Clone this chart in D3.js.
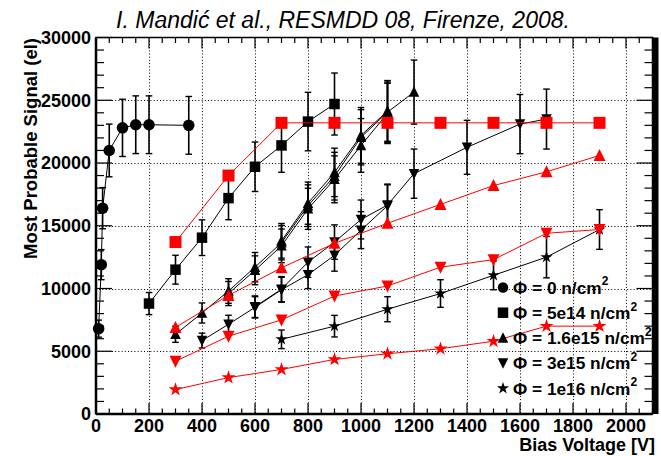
<!DOCTYPE html>
<html>
<head>
<meta charset="utf-8">
<script src="https://cdn.jsdelivr.net/npm/d3@7"></script>
<style>
  html, body { margin: 0; padding: 0; background: #fff; }
  svg { display: block; font-family: "Liberation Sans", Arial, Helvetica, sans-serif; }
</style>
</head>
<body>
<svg id="chart" width="661" height="456"></svg>
<script>
// ---- Data: bias voltage [V] vs most probable signal [electrons] ----
// Phi = 0 (black circles)
const voltPhi0 = [10, 20, 25, 50, 100, 150, 200, 350];
const sigPhi0  = [6800, 11900, 16400, 21000, 22800, 23050, 23050, 23000];
const errPhi0  = [680, 1200, 1640, 2100, 2280, 2300, 2300, 2300];

// Phi = 5e14 (black squares, red squares)
const voltPhi5e14A = [200, 300, 400, 500, 600, 700, 800, 900];
const sigPhi5e14A  = [8800, 11500, 14050, 17200, 19700, 21400, 23300, 24700];
const errPhi5e14A  = [880, 1150, 1420, 1720, 1970, 2140, 2330, 2470];
const voltPhi5e14B = [300, 500, 700, 900, 1100, 1300, 1500, 1700, 1900];
const sigPhi5e14B  = [13700, 19000, 23200, 23200, 23200, 23200, 23200, 23200, 23200];

// Phi = 1.6e15 (black triangles: three samples, red triangles)
const voltPhi16e15A = [300, 400, 500, 600, 700, 800, 900, 1000, 1100, 1200];
const sigPhi16e15A  = [6350, 8050, 9800, 11700, 13650, 16600, 18950, 22050, 24050, 25650];
const errPhi16e15A  = [640, 800, 980, 1170, 1370, 1660, 1900, 2200, 2400, 2550];
const voltPhi16e15B = [500, 600, 700, 800, 900, 1000, 1100];
const sigPhi16e15B  = [9600, 11450, 13400, 16350, 18700, 21400, 23950];
const errPhi16e15B  = [960, 1150, 1340, 1640, 1870, 2140, 2400];
const voltPhi16e15C = [700, 800, 900, 1000, 1100];
const sigPhi16e15C  = [13800, 16800, 19250, 22200, 24150];
const errPhi16e15C  = [1380, 1680, 1930, 2220, 2420];
const voltPhi16e15D = [300, 500, 700, 900, 1100, 1300, 1500, 1700, 1900];
const sigPhi16e15D  = [6900, 9450, 11650, 13600, 15200, 16700, 18200, 19300, 20600];

// Phi = 3e15 (black inverted triangles: two samples, red inverted triangles)
const voltPhi3e15A = [400, 500, 600, 700, 800, 900, 1000, 1100];
const sigPhi3e15A  = [5850, 7150, 8500, 9900, 11100, 12650, 14650, 16600];
const errPhi3e15A  = [590, 720, 850, 990, 1110, 1270, 1470, 1660];
const voltPhi3e15B = [600, 700, 800, 900, 1000, 1100, 1200, 1400, 1600, 1700];
const sigPhi3e15B  = [8550, 9950, 12100, 13700, 15500, 16650, 19150, 21250, 23100, 23500];
const errPhi3e15B  = [860, 1000, 1210, 1370, 1550, 1670, 1960, 2150, 2360, 2390];
const voltPhi3e15C = [300, 500, 700, 900, 1100, 1300, 1500, 1700, 1900];
const sigPhi3e15C  = [4200, 6200, 7500, 9400, 10200, 11700, 12300, 14400, 14700];

// Phi = 1e16 (black stars, red stars)
const voltPhi1e16A = [700, 900, 1100, 1300, 1500, 1700, 1900];
const sigPhi1e16A  = [5950, 7000, 8350, 9600, 11050, 12500, 14700];
const errPhi1e16A  = [740, 860, 1000, 1100, 1150, 1650, 1580];
const voltPhi1e16B = [300, 500, 700, 900, 1100, 1300, 1500, 1700, 1900];
const sigPhi1e16B  = [1950, 2900, 3550, 4350, 4800, 5200, 5800, 7000, 7000];

// Axis ticks and legend entries
const xTicks = [0, 200, 400, 600, 800, 1000, 1200, 1400, 1600, 1800, 2000];
const yTicks = [0, 5000, 10000, 15000, 20000, 25000, 30000];
const legendLabels = ["0", "5e14", "1.6e15", "3e15", "1e16"];
const legendMarkers = ["circle", "square", "triUp", "triDown", "star"];

// ---- Layout ----
const svg = d3.select("#chart");
const frame = { left: 96, right: 652.5, top: 37.5, bottom: 414 };
const x = d3.scaleLinear().domain([0, 2100]).range([frame.left, frame.right]);
const y = d3.scaleLinear().domain([0, 30000]).range([frame.bottom, frame.top]);

// Marker shapes
function markerPath(kind, s) {
  const h = s / 2;
  switch (kind) {
    case "circle": return d3.symbol(d3.symbolCircle, Math.PI * h * h)();
    case "square": return `M${-h},${-h}H${h}V${h}H${-h}Z`;
    case "triUp": return `M0,${-h - 0.5}L${h},${h - 0.5}L${-h},${h - 0.5}Z`;
    case "triDown": return `M0,${h + 0.5}L${h},${-h + 0.5}L${-h},${-h + 0.5}Z`;
    case "star": return d3.symbol(d3.symbolStar, s * s * 0.42)();
  }
}

// ---- Grid ----
const grid = svg.append("g").attr("stroke", "#000").attr("stroke-width", 1)
  .attr("stroke-dasharray", "1,2.2");
xTicks.filter(v => v > 0).forEach(v => {
  grid.append("line").attr("x1", Math.round(x(v)) + 0.5).attr("x2", Math.round(x(v)) + 0.5)
    .attr("y1", frame.top).attr("y2", frame.bottom);
});
yTicks.filter(v => v > 0 && v < 30000).forEach(v => {
  grid.append("line").attr("y1", Math.round(y(v)) + 0.5).attr("y2", Math.round(y(v)) + 0.5)
    .attr("x1", frame.left).attr("x2", frame.right);
});

// ---- Axes (ticks drawn inward on all four sides) ----
const axisG = svg.append("g");
const xMinor = d3.range(0, 2101, 50);
const yMinor = d3.range(0, 30001, 1000);
xMinor.forEach(v => {
  const major = v % 200 === 0;
  const len = major ? 11 : 5.5;
  const px = x(v);
  axisG.append("line").attr("x1", px).attr("x2", px).attr("y1", frame.bottom).attr("y2", frame.bottom - len)
    .attr("stroke", "#000").attr("stroke-width", 1.2);
  axisG.append("line").attr("x1", px).attr("x2", px).attr("y1", frame.top).attr("y2", frame.top + len)
    .attr("stroke", "#000").attr("stroke-width", 1.2);
});
yMinor.forEach(v => {
  const major = v % 5000 === 0;
  const len = major ? 16 : 8;
  const py = y(v);
  axisG.append("line").attr("x1", frame.left).attr("x2", frame.left + len).attr("y1", py).attr("y2", py)
    .attr("stroke", "#000").attr("stroke-width", 1.2);
  axisG.append("line").attr("x1", frame.right).attr("x2", frame.right - len).attr("y1", py).attr("y2", py)
    .attr("stroke", "#000").attr("stroke-width", 1.2);
});
axisG.append("rect").attr("x", frame.left).attr("y", frame.top)
  .attr("width", frame.right - frame.left).attr("height", frame.bottom - frame.top)
  .attr("fill", "none").attr("stroke", "#000").attr("stroke-width", 1.5);
axisG.append("line").attr("x1", frame.left).attr("x2", frame.left)
  .attr("y1", frame.top).attr("y2", frame.bottom).attr("stroke", "#000").attr("stroke-width", 2.5);
axisG.append("line").attr("x1", frame.left).attr("x2", frame.right)
  .attr("y1", frame.bottom).attr("y2", frame.bottom).attr("stroke", "#000").attr("stroke-width", 2.5);
// heavy right border of the frame
axisG.append("rect").attr("x", frame.right - 0.5).attr("y", frame.top)
  .attr("width", 6.5).attr("height", frame.bottom - frame.top).attr("fill", "#000");

// Tick labels
svg.append("g").selectAll("text").data(yTicks).join("text")
  .attr("x", 91).attr("y", d => y(d)).attr("dy", "0.36em")
  .attr("text-anchor", "end").attr("font-size", 18).attr("font-weight", "bold")
  .text(d => d);
svg.append("g").selectAll("text").data(xTicks).join("text")
  .attr("x", d => x(d)).attr("y", 432)
  .attr("text-anchor", "middle").attr("font-size", 18).attr("font-weight", "bold")
  .text(d => d);

// Axis titles
svg.append("text").attr("transform", "translate(37,38) rotate(-90)")
  .attr("text-anchor", "end").attr("font-size", 18.5).attr("font-weight", "bold")
  .text("Most Probable Signal (el)");
svg.append("text").attr("x", 655).attr("y", 451)
  .attr("text-anchor", "end").attr("font-size", 18).attr("font-weight", "bold")
  .text("Bias Voltage [V]");

// Title
svg.append("text").attr("x", 343).attr("y", 28)
  .attr("text-anchor", "middle").attr("font-size", 23).attr("font-style", "italic")
  .text("I. Mandić et al., RESMDD 08, Firenze, 2008.");

// ---- Data series ----
const BLACK = "#000", RED = "#ff0000";
const seriesList = [
  { v: voltPhi0, s: sigPhi0, e: errPhi0, color: BLACK, marker: "circle", size: 11.5 },
  { v: voltPhi5e14A, s: sigPhi5e14A, e: errPhi5e14A, color: BLACK, marker: "square", size: 10.5 },
  { v: voltPhi16e15A, s: sigPhi16e15A, e: errPhi16e15A, color: BLACK, marker: "triUp", size: 10.5 },
  { v: voltPhi16e15B, s: sigPhi16e15B, e: errPhi16e15B, color: BLACK, marker: "triUp", size: 10.5 },
  { v: voltPhi16e15C, s: sigPhi16e15C, e: errPhi16e15C, color: BLACK, marker: "triUp", size: 10.5 },
  { v: voltPhi3e15A, s: sigPhi3e15A, e: errPhi3e15A, color: BLACK, marker: "triDown", size: 10.5 },
  { v: voltPhi3e15B, s: sigPhi3e15B, e: errPhi3e15B, color: BLACK, marker: "triDown", size: 10.5 },
  { v: voltPhi1e16A, s: sigPhi1e16A, e: errPhi1e16A, color: BLACK, marker: "star", size: 10.5 },
  { v: voltPhi5e14B, s: sigPhi5e14B, e: null, color: RED, marker: "square", size: 12 },
  { v: voltPhi16e15D, s: sigPhi16e15D, e: null, color: RED, marker: "triUp", size: 12 },
  { v: voltPhi3e15C, s: sigPhi3e15C, e: null, color: RED, marker: "triDown", size: 12 },
  { v: voltPhi1e16B, s: sigPhi1e16B, e: null, color: RED, marker: "star", size: 12 }
];

const line = d3.line().x(d => x(d[0])).y(d => y(d[1]));
const plot = svg.append("g");
seriesList.forEach(ser => {
  const pts = ser.v.map((v, i) => [v, ser.s[i], ser.e ? ser.e[i] : 0]);
  const g = plot.append("g");
  g.append("path").datum(pts).attr("d", line)
    .attr("fill", "none").attr("stroke", ser.color).attr("stroke-width", 1);
  if (ser.e) {
    pts.forEach(p => {
      const px = x(p[0]), top = y(p[1] + p[2]), bot = y(p[1] - p[2]);
      g.append("line").attr("x1", px).attr("x2", px).attr("y1", top).attr("y2", bot)
        .attr("stroke", ser.color).attr("stroke-width", 1.6);
      [top, bot].forEach(cy => g.append("line").attr("x1", px - 3.3).attr("x2", px + 3.3)
        .attr("y1", cy).attr("y2", cy).attr("stroke", ser.color).attr("stroke-width", 1.4));
    });
  }
  g.selectAll("path.mk").data(pts).join("path").attr("class", "mk")
    .attr("transform", d => `translate(${x(d[0])},${y(d[1])})`)
    .attr("d", markerPath(ser.marker, ser.size))
    .attr("fill", ser.color);
});

// ---- Legend ----
const legend = svg.append("g");
legendLabels.forEach((lab, i) => {
  const cy = 287.5 + i * 25.2;
  legend.append("path").attr("transform", `translate(503,${cy})`)
    .attr("d", markerPath(legendMarkers[i], 10.5)).attr("fill", "#000");
  const t = legend.append("text").attr("x", 513).attr("y", cy + 6.3)
    .attr("font-size", 17.3).attr("font-weight", "bold");
  t.append("tspan").text(`\u03A6 = ${lab} n/cm`);
  t.append("tspan").attr("dy", -8.5).attr("font-size", 12).text("2");
});
</script>
</body>
</html>
